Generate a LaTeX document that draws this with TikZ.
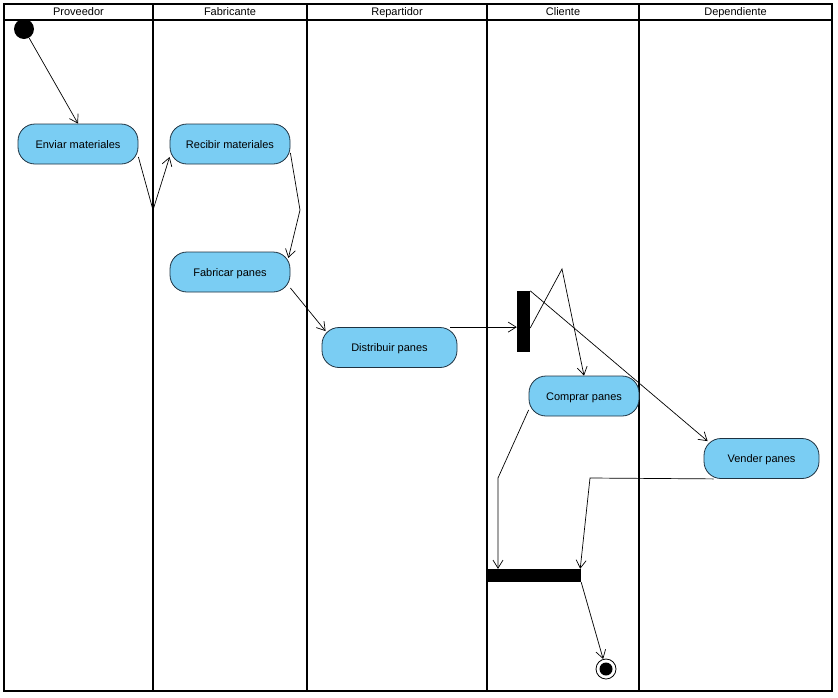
\documentclass[tikz,border=0pt]{standalone}
\usepackage{fontspec}
\setmainfont{Liberation Sans}
\usetikzlibrary{arrows.meta, positioning, shapes.geometric}
\definecolor{actfill}{RGB}{122,205,243}
\definecolor{actline}{RGB}{30,50,65}

\begin{document}
\begin{tikzpicture}[
                x=1pt, y=-1pt,
                every node/.style={font=\fontsize{11}{13}\selectfont, text height=9pt, text depth=1pt},
                action/.style={draw=actline, fill=actfill, rounded corners=17pt, line width=0.8pt, minimum height=40pt, inner sep=0pt},
                bar/.style={fill=black, inner sep=0pt, text height=, text depth=},
                lane/.style={line width=1.6pt},
                arrow/.style={line width=0.7pt, -{Straight Barb[length=8pt, width=10pt]}}]

            \useasboundingbox (0,0) rectangle (838,697);

            % Calles
            \draw[lane] (4,4) rectangle (832,691);
            \draw[lane] (4,20) -- (832,20);
            \foreach \x in {153,307,487,639}
                \draw[lane] (\x,4) -- (\x,691);
            \foreach \x/\name in {78.5/Proveedor, 230/Fabricante, 397/Repartidor, 563/Cliente, 735.5/Dependiente}
                \node[inner sep=0pt] (lane-\name) at (\x,11.5) {\name};

            % Actividades
            \node[circle, fill=black, minimum size=20pt, inner sep=0pt] (inicio) at (24,29) {};
            \node[action, minimum width=120pt] (enviar) at (78,144) {Enviar materiales};
            \node[action, minimum width=120pt] (recibir) at (230,144) {Recibir materiales};
            \node[action, minimum width=120pt] (fabricar) at (230,272) {Fabricar panes};
            \node[action, minimum width=135pt] (distribuir) at (389.5,347.5) {Distribuir panes};
            \node[action, minimum width=110pt] (comprar) at (584,396) {Comprar panes};
            \node[action, minimum width=115pt] (vender) at (761.5,458.5) {Vender panes};
            \node[bar, minimum width=13pt, minimum height=61pt] (fork) at (523.5,321.5) {};
            \node[bar, minimum width=94pt, minimum height=13pt] (join) at (534,575.5) {};
            \node[circle, draw, line width=0.8pt, minimum size=20pt, inner sep=0pt] (fin) at (606,669) {};
            \fill (fin) circle (6.5pt);

            % Puntos de paso
            \coordinate (p1) at (153,210);
            \coordinate (p2) at (300,210);
            \coordinate (p3) at (562,269);
            \coordinate (p4) at (498,478);
            \coordinate (p5) at (590,478);

            % Flujos
            \draw[arrow] (inicio) -- (enviar.north);
            \draw[arrow] ([yshift=-13pt]enviar.east) -- (p1) -- ([yshift=-13pt]recibir.west);
            \draw[arrow] ([yshift=-9pt]recibir.east) -- (p2) -- ([shift={(-2pt,14pt)}]fabricar.east);
            \draw[arrow] ([yshift=-16pt]fabricar.east) -- ([shift={(4pt,-4pt)}]distribuir.north west);
            \draw[arrow] ([xshift=-7pt]distribuir.north east) -- (distribuir.north east -| fork.west);
            \draw[arrow] ([yshift=-6.5pt]fork.east) -- (p3) -- (comprar.north);
            \draw[arrow] (fork.north east) -- ([shift={(4pt,-3pt)}]vender.north west);
            \draw[arrow] ([yshift=-14pt]comprar.west) -- (p4) -- (p4 |- join.north);
            \draw[arrow] ([xshift=10pt]vender.south west) -- (p5) -- ([xshift=-1pt]join.north east);
            \draw[arrow] (join.south east) -- (fin);

        \end{tikzpicture}
\end{document}
